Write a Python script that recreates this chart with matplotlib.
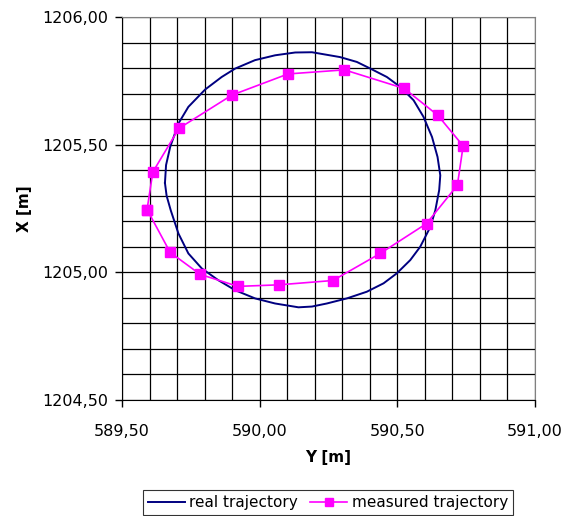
import numpy as np
import matplotlib
matplotlib.use('Agg')
import matplotlib.pyplot as plt
from matplotlib.ticker import MultipleLocator, FuncFormatter

# real trajectory (Y = horizontal, X = vertical)
real_y = [589.656, 589.660, 589.675, 589.705, 589.741, 589.802, 589.862, 589.911,
          589.983, 590.056, 590.129, 590.190, 590.292, 590.353, 590.402, 590.462,
          590.511, 590.559, 590.595, 590.626, 590.646, 590.656, 590.652, 590.638,
          590.620, 590.583, 590.547, 590.498, 590.450, 590.389, 590.317, 590.244,
          590.190, 590.141, 590.056, 589.983, 589.911, 589.850, 589.790, 589.741,
          589.705, 589.677, 589.662, 589.656]
real_x = [1205.350, 1205.420, 1205.491, 1205.583, 1205.648, 1205.716, 1205.765, 1205.798,
          1205.831, 1205.850, 1205.861, 1205.862, 1205.843, 1205.824, 1205.798, 1205.765,
          1205.726, 1205.674, 1205.609, 1205.530, 1205.452, 1205.380, 1205.322, 1205.243,
          1205.178, 1205.100, 1205.048, 1204.996, 1204.957, 1204.924, 1204.898, 1204.878,
          1204.866, 1204.863, 1204.878, 1204.898, 1204.930, 1204.969, 1205.015, 1205.074,
          1205.152, 1205.243, 1205.300, 1205.350]

# measured trajectory
meas_y = [589.591, 589.612, 589.707, 589.899, 590.103, 590.308, 590.525, 590.647, 590.739,
          590.718, 590.606, 590.438, 590.266, 590.069, 589.921, 589.784, 589.675, 589.591]
meas_x = [1205.246, 1205.393, 1205.564, 1205.694, 1205.777, 1205.793, 1205.720, 1205.615,
          1205.495, 1205.341, 1205.191, 1205.074, 1204.968, 1204.951, 1204.945, 1204.992,
          1205.078, 1205.246]

plt.rcParams['font.family'] = ['DejaVu Sans']

fig = plt.figure(figsize=(5.66, 5.16), dpi=100)
ax = fig.add_axes([122/566, 1 - 400/516, (535 - 122)/566, (400 - 17)/516])

ax.plot(real_y, real_x, color='#000080', lw=1.4, label='real trajectory', zorder=3)
ax.plot(meas_y, meas_x, color='#FF00FF', lw=1.2, marker='s', markersize=7,
        markeredgecolor='#FF00FF', label='measured trajectory', zorder=4)

ax.set_xlim(589.5, 591.0)
ax.set_ylim(1204.5, 1206.0)
ax.xaxis.set_major_locator(MultipleLocator(0.5))
ax.yaxis.set_major_locator(MultipleLocator(0.5))
ax.xaxis.set_minor_locator(MultipleLocator(0.1))
ax.yaxis.set_minor_locator(MultipleLocator(0.1))
fmt = FuncFormatter(lambda v, p: f"{v:.2f}".replace('.', ','))
ax.xaxis.set_major_formatter(fmt)
ax.yaxis.set_major_formatter(fmt)

ax.grid(which='both', color='black', lw=0.9)
ax.set_axisbelow(True)
ax.tick_params(which='major', direction='out', length=5, width=1, labelsize=11.5)
ax.tick_params(axis='x', which='major', pad=12)
ax.tick_params(axis='y', which='major', pad=5)
ax.tick_params(which='minor', length=0)

for s in ['top', 'right']:
    ax.spines[s].set_color('#808080')
for s in ['left', 'bottom']:
    ax.spines[s].set_color('black')

ax.set_xlabel('Y [m]', fontsize=11, fontweight='bold', labelpad=8)
ax.set_ylabel('X [m]', fontsize=11, fontweight='bold', labelpad=7)

leg = fig.legend(loc='upper center', bbox_to_anchor=(328/566, 1 - 482/516), ncol=2,
                 fontsize=11, frameon=True, fancybox=False, edgecolor='black',
                 handlelength=2.4, handletextpad=0.3, columnspacing=0.8,
                 borderpad=0.35, markerscale=0.8)
leg.get_frame().set_linewidth(0.8)

fig.savefig('out.png', dpi=100)
